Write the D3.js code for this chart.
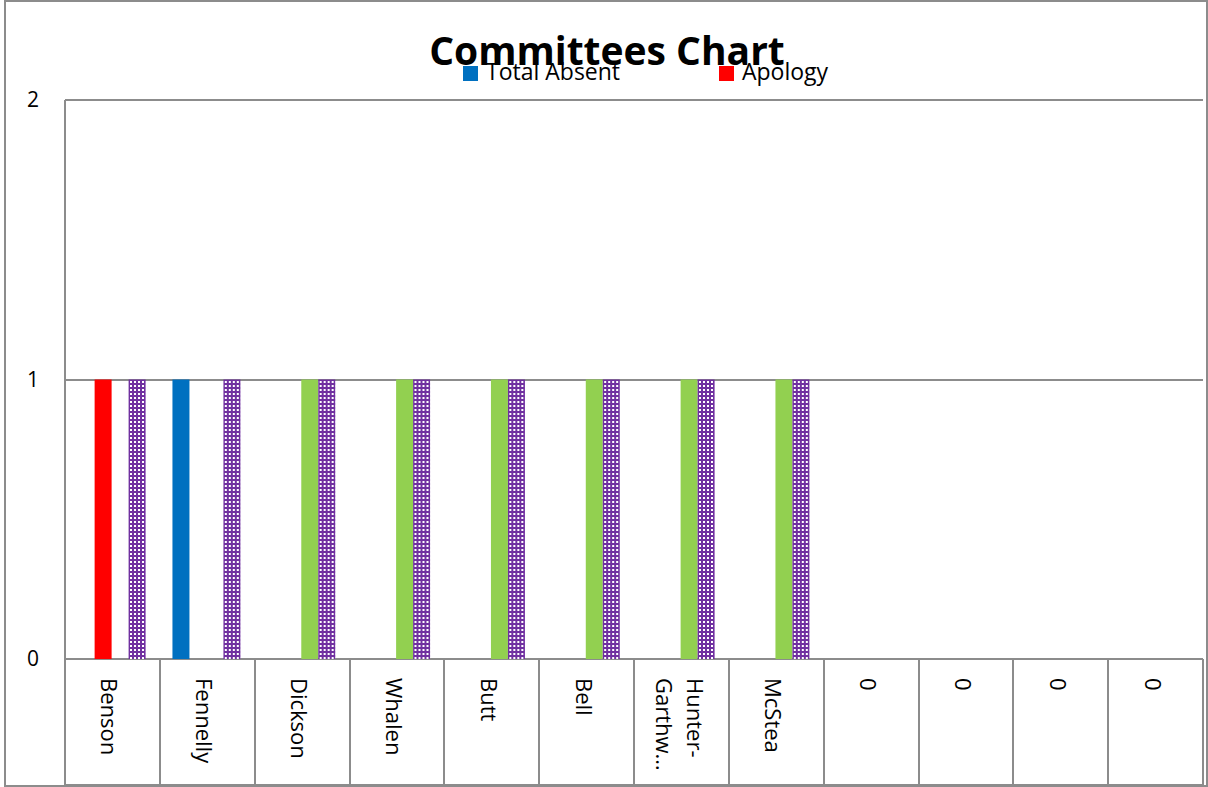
<!DOCTYPE html>
<html>
<head>
<meta charset="utf-8">
<script src="https://cdn.jsdelivr.net/npm/d3@7"></script>
<style>
  body { margin: 0; background: #fff; }
  text { font-family: "Open Sans", "Noto Sans", sans-serif; fill: #000; }
</style>
</head>
<body>
<script>
// committee members (blank ones show up as 0 in the sheet)
var categories = ["Benson", "Fennelly", "Dickson", "Whalen", "Butt", "Bell", "Hunter-Garthw\u2026", "McStea", "0", "0", "0", "0"];

var seriesNames = ["Total Absent", "Apology", "Attended", "Members"];
var totalAbsent = [0, 1, 0, 0, 0, 0, 0, 0, 0, 0, 0, 0];
var apology     = [1, 0, 0, 0, 0, 0, 0, 0, 0, 0, 0, 0];
var attended    = [0, 0, 1, 1, 1, 1, 1, 1, 0, 0, 0, 0];
var members     = [1, 1, 1, 1, 1, 1, 1, 1, 0, 0, 0, 0];
var legendNames = ["Total Absent", "Apology"];
var yTicks = [0, 1, 2];

var seriesValues = [totalAbsent, apology, attended, members];
var colors = { "Total Absent": "#0070C0", "Apology": "#FF0000", "Attended": "#92D050", "Members": "url(#dots)" };

var W = 1208, H = 787;
var plot = { left: 65, right: 1203, top: 100, bottom: 659, tableBottom: 785 };
var gridColor = "#8c8c8c";

var svg = d3.select("body").append("svg")
    .attr("width", W)
    .attr("height", H);

// purple with little white squares
var pat = svg.append("defs").append("pattern")
    .attr("id", "dots")
    .attr("patternUnits", "userSpaceOnUse")
    .attr("width", 4)
    .attr("height", 4);
pat.append("rect").attr("width", 4).attr("height", 4).attr("fill", "#7030A0");
pat.append("rect").attr("x", 1).attr("y", 1).attr("width", 2).attr("height", 2).attr("fill", "#ffffff");

// outer chart border (cut at the right / bottom of the picture)
svg.append("rect")
    .attr("x", 5).attr("y", 1)
    .attr("width", 1202).attr("height", 785)
    .attr("fill", "none")
    .attr("stroke", gridColor)
    .attr("stroke-width", 2);

var x = d3.scaleBand()
    .domain(d3.range(categories.length))
    .range([plot.left, plot.right])
    .padding(0);

var x1 = d3.scaleBand()
    .domain(seriesNames)
    .range([0, x.bandwidth()])
    .paddingInner(0)
    .paddingOuter(0.79)
    .align(0.47);

var y = d3.scaleLinear()
    .domain([0, 2])
    .range([plot.bottom, plot.top]);

// gridlines
svg.append("g")
    .selectAll("line")
    .data(yTicks)
    .enter().append("line")
    .attr("x1", plot.left)
    .attr("x2", plot.right)
    .attr("y1", function(d) { return Math.round(y(d)); })
    .attr("y2", function(d) { return Math.round(y(d)); })
    .attr("stroke", gridColor)
    .attr("stroke-width", 2);

// y labels
svg.append("g")
    .selectAll("text")
    .data(yTicks)
    .enter().append("text")
    .attr("x", 33)
    .attr("y", function(d) { return y(d); })
    .attr("dy", "0.35em")
    .attr("text-anchor", "middle")
    .style("font-size", "21px")
    .text(function(d) { return d; });

// bars
var groups = svg.append("g")
    .selectAll("g")
    .data(categories)
    .enter().append("g")
    .attr("transform", function(d, i) { return "translate(" + x(i) + ",0)"; });

groups.selectAll("rect")
    .data(function(d, i) {
        return seriesNames.map(function(s, k) { return { name: s, value: seriesValues[k][i] }; });
    })
    .enter().append("rect")
    .filter(function(d) { return d.value > 0; })
    .attr("x", function(d) { return x1(d.name); })
    .attr("width", x1.bandwidth())
    .attr("y", function(d) { return y(d.value); })
    .attr("height", function(d) { return y(0) - y(d.value); })
    .attr("fill", function(d) { return colors[d.name]; });

// category table lines
var bounds = d3.range(categories.length + 1).map(function(i) {
    return i < categories.length ? x(i) : plot.right;
});
svg.append("g")
    .selectAll("line")
    .data(bounds)
    .enter().append("line")
    .attr("x1", function(d) { return Math.round(d); })
    .attr("x2", function(d) { return Math.round(d); })
    .attr("y1", function(d, i) { return i === 0 ? plot.top : plot.bottom; })
    .attr("y2", plot.tableBottom)
    .attr("stroke", gridColor)
    .attr("stroke-width", 2);

svg.append("line")
    .attr("x1", plot.left).attr("x2", plot.right)
    .attr("y1", plot.tableBottom).attr("y2", plot.tableBottom)
    .attr("stroke", gridColor)
    .attr("stroke-width", 2);

// category labels, rotated
var labels = svg.append("g")
    .selectAll("text")
    .data(categories)
    .enter().append("text")
    .attr("transform", function(d, i) {
        return "translate(" + (x(i) + x.bandwidth() / 2) + ",678) rotate(90)";
    })
    .style("font-size", "22px");

labels.each(function(d) {
    var t = d3.select(this);
    var parts = d.indexOf("-") > 0 ? [d.slice(0, d.indexOf("-") + 1), d.slice(d.indexOf("-") + 1)] : [d];
    if (parts.length === 1) {
        t.append("tspan").attr("x", 0).attr("y", 11).text(parts[0]);
    } else {
        t.append("tspan").attr("x", 0).attr("y", -6).text(parts[0]);
        t.append("tspan").attr("x", 0).attr("y", 25).text(parts[1]);
    }
});

// title
svg.append("text")
    .attr("x", 607)
    .attr("y", 65)
    .attr("text-anchor", "middle")
    .style("font-size", "39px")
    .style("font-weight", "bold")
    .text("Committees Chart");

// legend
var legendX = [463, 719];
var legend = svg.append("g")
    .selectAll("g")
    .data(legendNames)
    .enter().append("g")
    .attr("transform", function(d, i) { return "translate(" + legendX[i] + ",66)"; });

legend.append("rect")
    .attr("width", 15)
    .attr("height", 15)
    .attr("fill", function(d) { return colors[d]; });

legend.append("text")
    .attr("x", 23)
    .attr("y", 14)
    .style("font-size", "23px")
    .text(function(d) { return d; });
</script>
</body>
</html>
